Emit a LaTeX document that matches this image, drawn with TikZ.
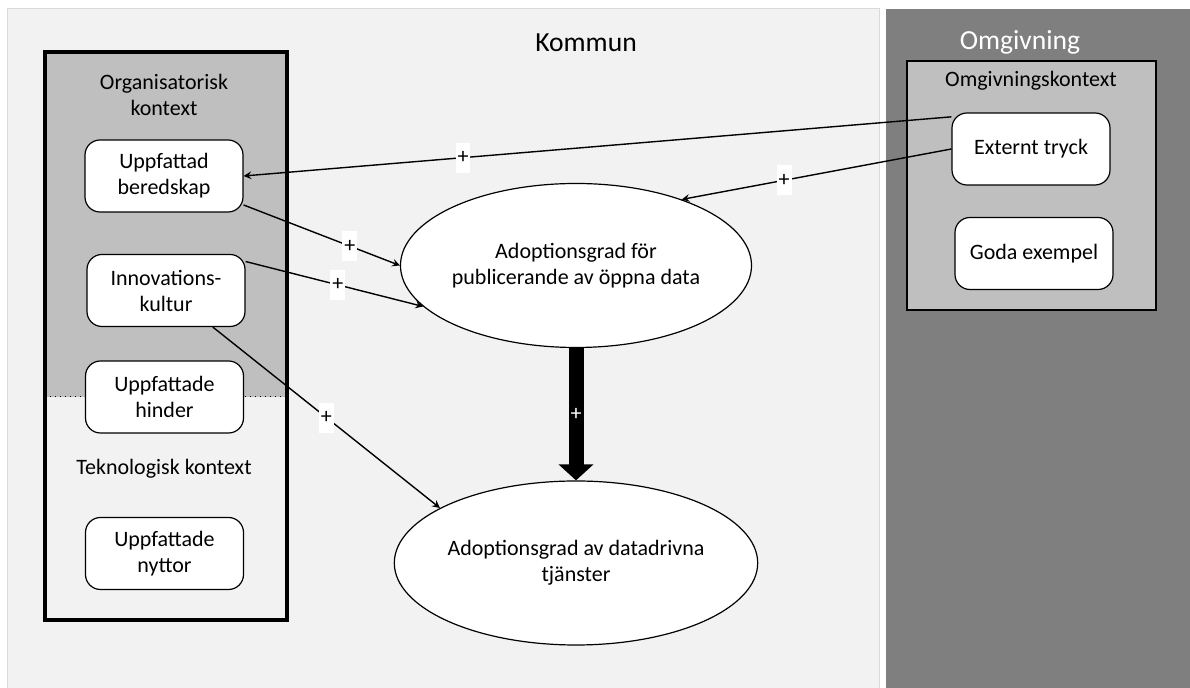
\documentclass[tikz,border=0pt]{standalone}
\usepackage{fontspec}
\setmainfont{Carlito}
\usepackage{tikz}
\usetikzlibrary{shapes.geometric,arrows.meta,positioning}
\definecolor{kommungray}{HTML}{F2F2F2}
\definecolor{omggray}{HTML}{7F7F7F}
\definecolor{ctxgray}{HTML}{BFBFBF}
\definecolor{framegray}{HTML}{D9D9D9}
\tikzset{
	factor/.style={draw, fill=white, rounded corners=7.5pt, minimum width=79pt, minimum height=36pt, align=center, line width=0.6pt},
	adoption/.style={ellipse, draw, fill=white, minimum width=164pt, minimum height=82pt, inner sep=0pt, align=center, line width=0.6pt},
	plus/.style={fill=white, inner xsep=1pt, inner ysep=0pt, minimum height=15pt},
	link/.style={->, >=stealth, line width=0.7pt},
	title/.style={font=\fontsize{13.8}{16}\selectfont}
}

\begin{document}
\begin{tikzpicture}[x=0.5pt, y=-0.5pt, font=\fontsize{11}{13}\selectfont]
	\useasboundingbox (0,0) rectangle (1190,688);
	\fill [white] (0,0) rectangle (1190,688);
	\draw [fill=kommungray, draw=framegray, line width=0.5pt] (7,9) rectangle (879,692);
	\fill [omggray] (886,9) rectangle (1192,692);
	\node [title] (kommun) at (586,43) {Kommun};
	\node [title, white] (omg) at (1020,42) {Omgivning};

	% organisatorisk och teknologisk kontext
	\fill [ctxgray] (45,52) rectangle (287,397);
	\draw [dotted, line width=0.5pt] (45,397) -- (287,397);
	\node [draw, line width=2pt, minimum width=121pt, minimum height=284pt] (orgctx) at (166,336) {};
	\node [align=center] (orglbl) at (164,95) {Organisatorisk\\kontext};
	\node (teklbl) at (164,469) {Teknologisk kontext};

	\node [factor] (ub) at (164,176) {Uppfattad\\beredskap};
	\node [factor] (ik) at (166,290.5) {Innovations-\\kultur};
	\node [factor] (uh) at (164.5,397) {Uppfattade\\hinder};
	\node [factor] (un) at (164.5,553.5) {Uppfattade\\nyttor};

	% omgivningskontext
	\node [draw, fill=ctxgray, line width=0.7pt, minimum width=124.5pt, minimum height=124.5pt] (omgctx) at (1031.5,185.5) {};
	\node (omglbl) at (1031,81) {Omgivningskontext};
	\node [factor] (et) at (1031,149) {Externt tryck};
	\node [factor] (ge) at (1034,253.5) {Goda exempel};

	\node [adoption] (e1) at (576,265.5) {Adoptionsgrad för\\publicerande av öppna data};
	\node [adoption] (e2) at (576,563) {Adoptionsgrad av datadrivna\\tjänster};

	\draw [link] (et.158) -- node [plus, pos=0.69] (p1) {+} (ub.east);
	\draw [link] (et.west) -- node [plus, pos=0.62] (p2) {+} (e1.32);
	\draw [link] (ub.-20) -- node [plus, pos=0.68] (p3) {+} (e1.west);
	\draw [link] (ik.20) -- node [plus, pos=0.52] (p4) {+} (e1.195);
	\draw [link] (ik.-38) -- node [plus, pos=0.5] (p5) {+} (e2.158);
	\draw [-{Triangle[width=17pt,length=8pt]}, line width=7.5pt] (e1.south) -- node [white] (p6) {+} (e2.north);
\end{tikzpicture}
\end{document}
